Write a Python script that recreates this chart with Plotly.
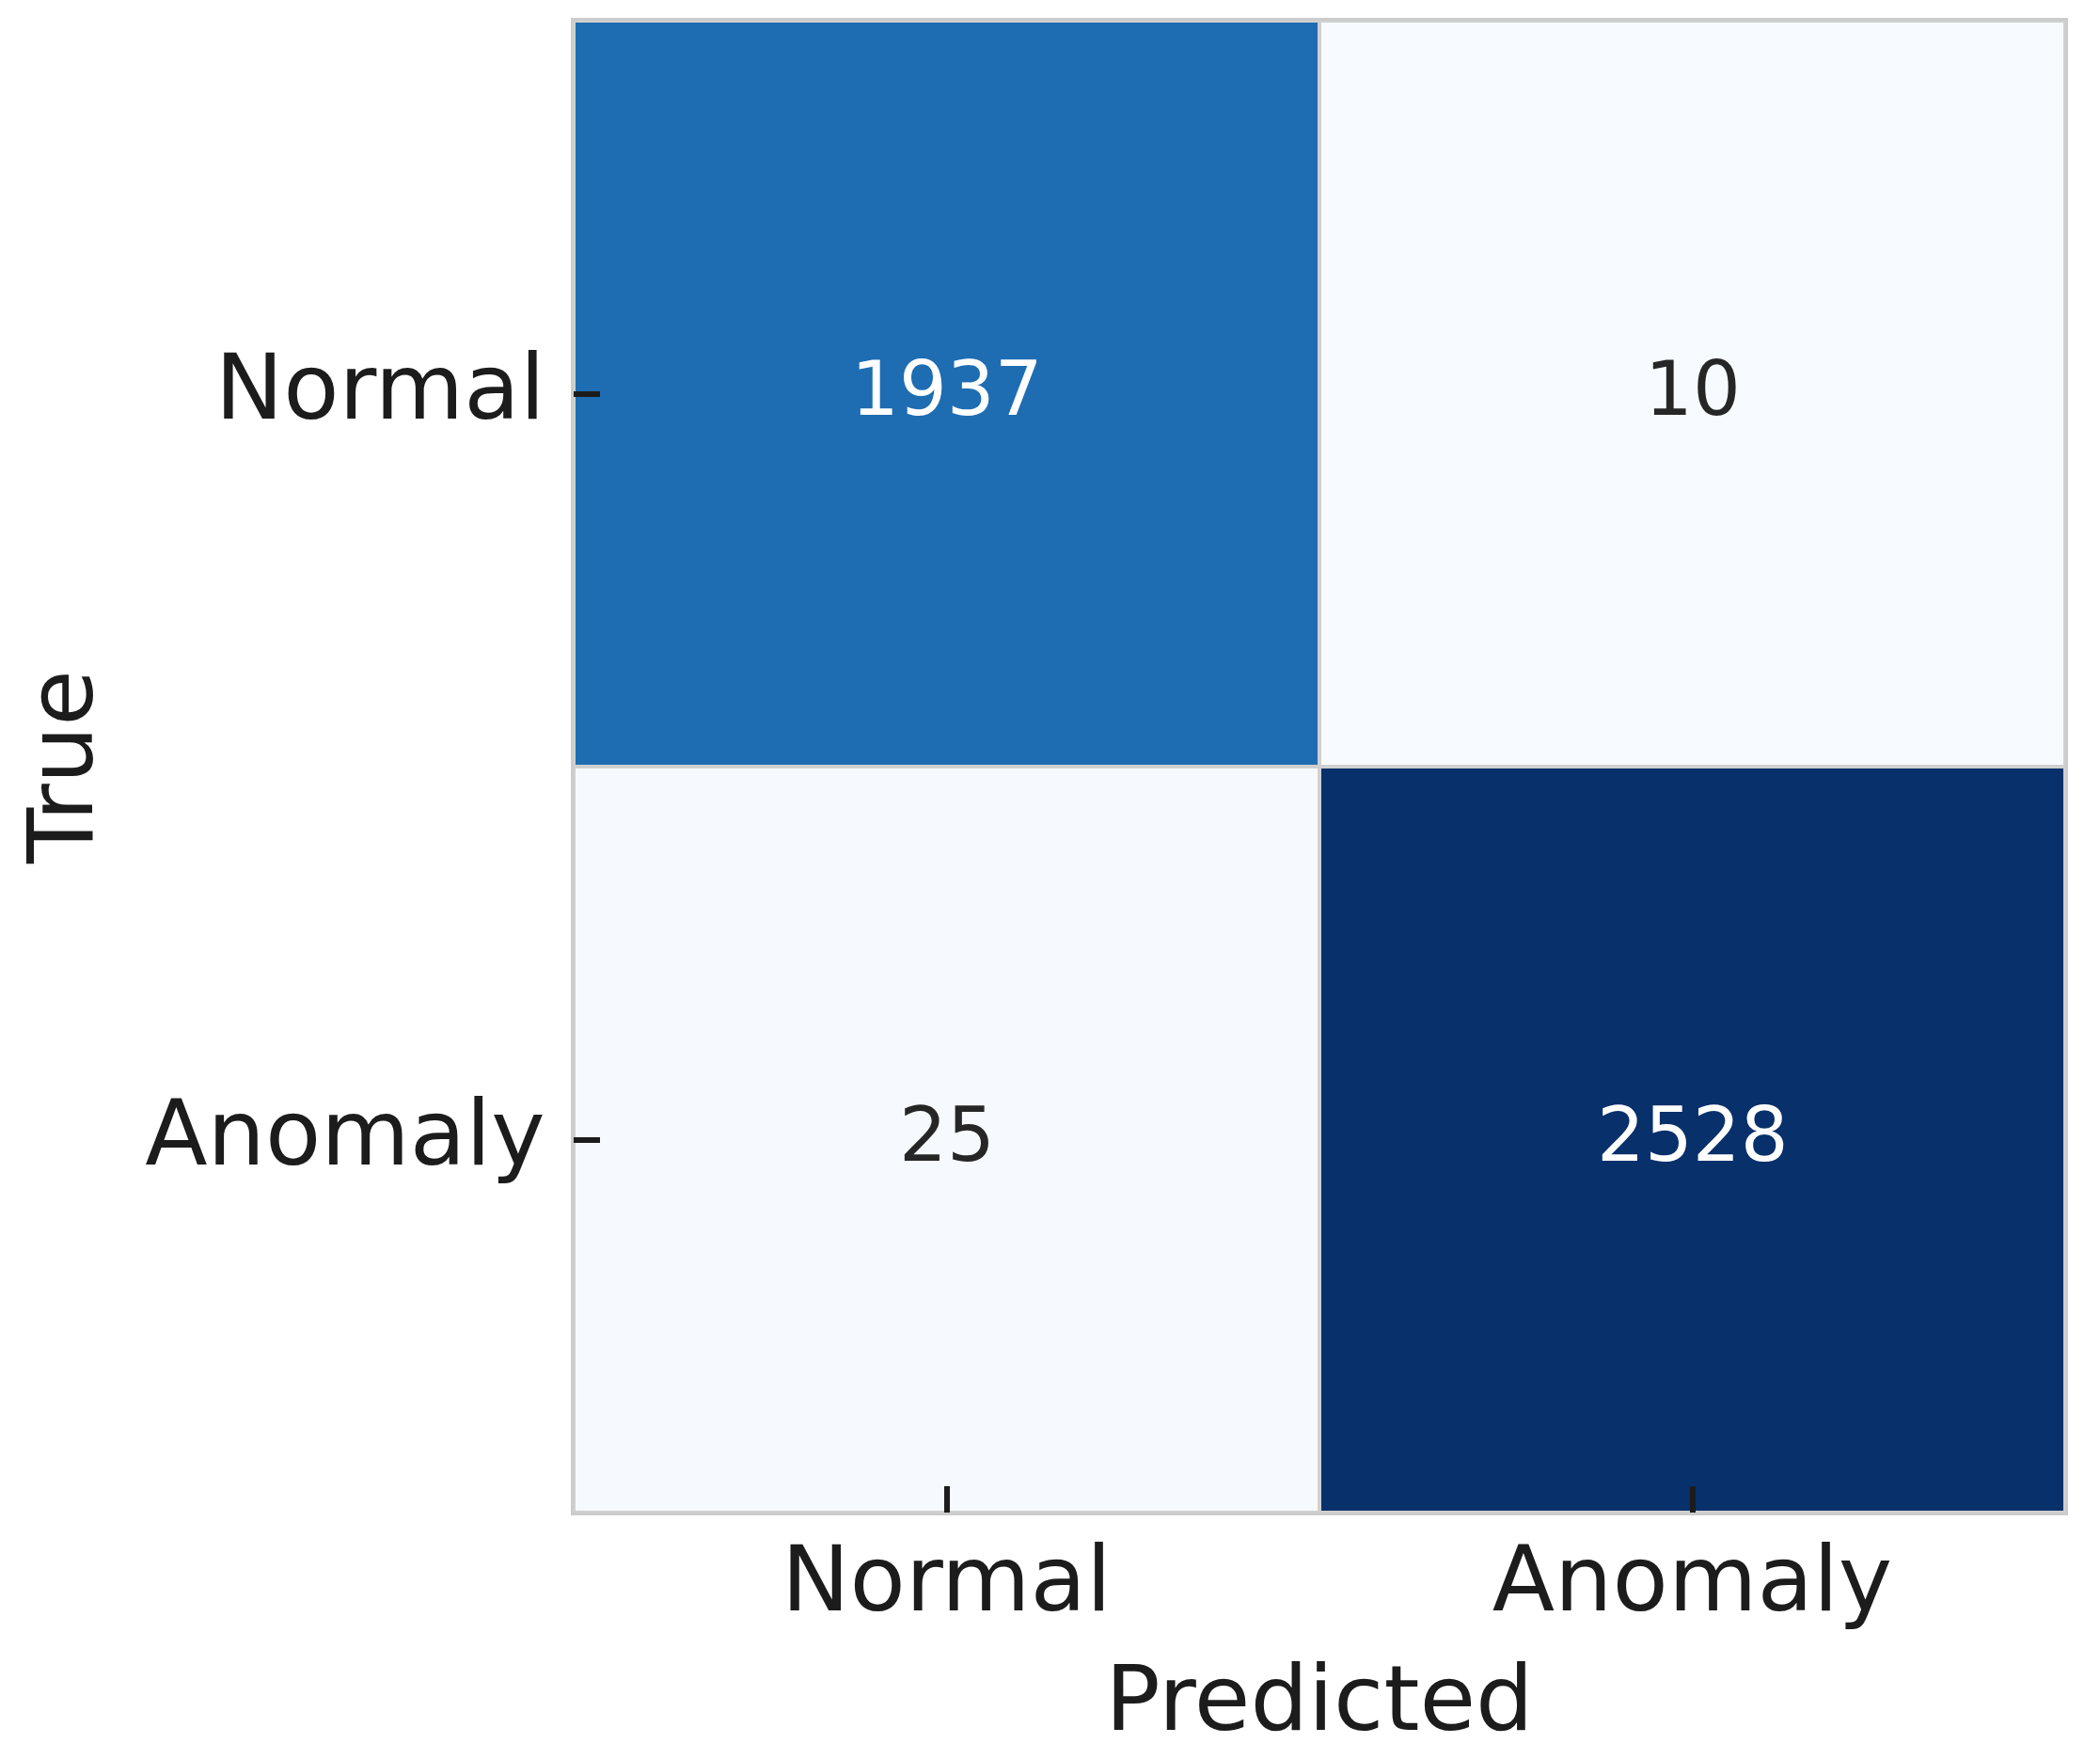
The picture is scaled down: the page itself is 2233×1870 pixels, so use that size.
import plotly.graph_objects as go

# ---- data ----
pred_labels = ["Normal", "Anomaly"]
true_labels = ["Normal", "Anomaly"]
row_normal = [1937, 10]
row_anomaly = [25, 2528]
z = [row_normal, row_anomaly]

blues = ["#f7fbff", "#deebf7", "#c6dbef", "#9ecae1", "#6baed6",
         "#4292c6", "#2171b5", "#08519c", "#08306b"]
colorscale = [[i / (len(blues) - 1), c] for i, c in enumerate(blues)]

zmin = min(min(r) for r in z)
zmax = max(max(r) for r in z)

FONT = "DejaVu Sans"
DARK = "#1c1c1c"

fig = go.Figure(go.Heatmap(
    z=z, x=pred_labels, y=true_labels,
    colorscale=colorscale, zmin=zmin, zmax=zmax,
    showscale=False, xgap=4, ygap=4, hoverinfo="skip",
))

annotations = []
for i, t in enumerate(true_labels):
    for j, p in enumerate(pred_labels):
        v = z[i][j]
        frac = (v - zmin) / (zmax - zmin)
        annotations.append(dict(
            x=p, y=t, xref="x", yref="y", text=str(v), showarrow=False,
            yshift=5,
            font=dict(family=FONT, size=80,
                      color="#ffffff" if frac > 0.5 else "#262626"),
        ))

fig.update_layout(
    width=2217, height=1854,
    margin=dict(l=602, r=29, t=14, b=254, autoexpand=False),
    paper_bgcolor="white", plot_bgcolor="#d0d0d0",
    font=dict(family=FONT, color=DARK),
    annotations=annotations,
)
fig.update_xaxes(
    title=dict(text="Predicted", font=dict(size=97, color=DARK), standoff=55),
    tickfont=dict(size=97, color=DARK),
    ticks="inside", ticklen=28, tickwidth=6, tickcolor=DARK,
    showline=True, mirror=True, linecolor="#cccccc", linewidth=3,
    showgrid=False, zeroline=False, automargin=False,
    ticklabelstandoff=-15,
)
fig.update_yaxes(
    title=dict(text="True", font=dict(size=97, color=DARK), standoff=30),
    tickfont=dict(size=97, color=DARK),
    ticks="inside", ticklen=28, tickwidth=6, tickcolor=DARK,
    showline=True, mirror=True, linecolor="#cccccc", linewidth=3,
    showgrid=False, zeroline=False, automargin=False,
    autorange="reversed", ticklabelstandoff=8, ticklabelshift=7,
)

fig.write_html("out.html")
